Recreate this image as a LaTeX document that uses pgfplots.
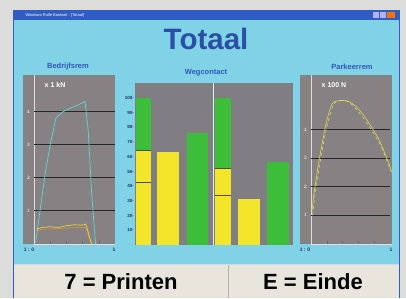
\documentclass[border=0pt]{standalone}
\usepackage{pgfplots}
\pgfplotsset{compat=1.18}
\usepackage{fontspec}
\setmainfont{Liberation Sans}
\setsansfont{Liberation Sans}
\definecolor{bgout}{HTML}{DCDCDA}
\definecolor{winblue}{HTML}{2F5DC4}
\definecolor{cyanbg}{HTML}{80D3E6}
\definecolor{panelgrey}{HTML}{868283}
\definecolor{midgrey}{HTML}{807D83}
\definecolor{titleblue}{HTML}{2B4FA6}
\definecolor{lblblue}{HTML}{3355C0}
\definecolor{barGreen}{HTML}{3DBE3A}
\definecolor{barYellow}{HTML}{F3E52A}
\definecolor{btn}{HTML}{E8E5DC}
\definecolor{cyanline}{HTML}{5ED8CE}
\definecolor{ylwline}{HTML}{E6DA3A}
\definecolor{orangeline}{HTML}{E8903A}
\definecolor{parkline}{HTML}{DCD84A}
\definecolor{axisline}{HTML}{E8D8E0}
\definecolor{tickblue}{HTML}{1F2F6F}
\begin{document}
\begin{tikzpicture}[x=1pt,y=1pt]
\fill[bgout] (0,0) rectangle (406,298);
\fill[winblue] (13,0) rectangle (400,288);
\fill[cyanbg] (14,33) rectangle (399,278);
\fill[btn] (14,0) rectangle (399,33);
\draw[white!70!gray] (14,33.5) -- (399,33.5);
\draw[gray!60] (228,0) -- (228,33);
\node[anchor=west,font=\fontsize{4}{4}\selectfont,text=white!85] at (22,283) {Windows Rolle Bankset - [Totaal]};
\fill[blue!30!white] (373,280) rectangle (379,286);
\fill[blue!30!white] (380,280) rectangle (386,286);
\fill[orange!90!red] (387,280) rectangle (395,286.5);
% titles
\node[font=\fontsize{29.5}{29.5}\selectfont\bfseries, text=titleblue] at (206,259) {Totaal};
\node[font=\fontsize{7.5}{8}\selectfont\bfseries, text=lblblue] at (68,231) {Bedrijfsrem};
\node[font=\fontsize{7.5}{8}\selectfont\bfseries, text=lblblue] at (206,225) {Wegcontact};
\node[font=\fontsize{7.5}{8}\selectfont\bfseries, text=lblblue] at (352,231) {Parkeerrem};
\node[font=\fontsize{22}{22}\selectfont\bfseries] at (121,16) {7 = Printen};
\node[font=\fontsize{22}{22}\selectfont\bfseries] at (313,16) {E = Einde};
% left panel
\begin{axis}[at={(23pt,54pt)}, anchor=south west, scale only axis, width=92pt, height=169pt,
  xmin=-0.136, xmax=1, ymin=0, ymax=5.1, clip=false,
  axis background/.style={fill=panelgrey}, axis line style={draw=none},
  xtick={0.2,0.4,0.6,0.8}, xticklabels={}, tick pos=left, tick align=inside,
  major tick length=3pt, xtick style={black!60, thin},
  ytick={1,2,3,4}, ytick style={draw=none},
  yticklabel style={anchor=west, font=\fontsize{4.5}{5}\selectfont\bfseries, text=white!80}]
\addplot[axisline, line width=0.8pt] coordinates {(0,0)(0,5.1)};
\addplot[axisline, line width=0.8pt] coordinates {(0,0)(1,0)};
\addplot[black!85, line width=0.8pt] coordinates {(0,1)(1,1)};
\addplot[black!85, line width=0.8pt] coordinates {(0,2)(1,2)};
\addplot[black!85, line width=0.8pt] coordinates {(0,3)(1,3)};
\addplot[black!85, line width=0.8pt] coordinates {(0,4)(1,4)};
\addplot[cyanline, line width=0.7pt] coordinates {(0.02,0.05)(0.08,1.1)(0.14,2.15)(0.2,3.0)(0.27,3.8)(0.35,3.98)(0.45,4.1)(0.55,4.2)(0.63,4.3)(0.67,3.4)(0.71,1.6)(0.76,0)};
\addplot[orangeline, line width=0.6pt] coordinates {(0.03,0.38)(0.1,0.45)(0.2,0.45)(0.4,0.48)(0.6,0.5)(0.64,0.5)(0.68,0.2)(0.72,0)};
\addplot[ylwline, line width=0.7pt] coordinates {(0.03,0.45)(0.1,0.5)(0.2,0.52)(0.3,0.5)(0.4,0.55)(0.5,0.58)(0.6,0.57)(0.64,0.6)(0.67,0.35)(0.71,0)};
\end{axis}
\node[font=\fontsize{7}{7}\selectfont\bfseries, text=white] at (55,213) {x 1 kN};
\node[font=\fontsize{5}{5}\selectfont\bfseries, text=tickblue] at (29,48) {1 : 0};
\node[font=\fontsize{5}{5}\selectfont\bfseries, text=tickblue] at (114,48) {1};
% center panel
\begin{axis}[at={(135pt,53pt)}, anchor=south west, scale only axis, width=158pt, height=162pt,
  xmin=135, xmax=293, ymin=0, ymax=110.2, clip=false,
  axis background/.style={fill=midgrey}, axis line style={draw=none},
  xtick=\empty, ytick={10,20,30,40,50,60,70,80,90,100},
  yticklabels={10-,20-,30-,40-,50-,60-,70-,80-,90-,100-},
  ytick style={draw=none},
  yticklabel style={font=\fontsize{4.5}{5}\selectfont\bfseries, text=tickblue, inner xsep=1pt}]
\addplot[ybar, bar shift=0pt, bar width=15, fill=barGreen, draw=none] coordinates {(143.5,100)};
\addplot[ybar, bar shift=0pt, bar width=15, fill=barYellow, draw=none] coordinates {(143.5,64.6)};
\addplot[ybar, bar shift=0pt, bar width=22, fill=barYellow, draw=none] coordinates {(168,63.3)};
\addplot[ybar, bar shift=0pt, bar width=21, fill=barGreen, draw=none] coordinates {(197.5,76.2)};
\addplot[ybar, bar shift=0pt, bar width=16, fill=barGreen, draw=none] coordinates {(223,100)};
\addplot[ybar, bar shift=0pt, bar width=16, fill=barYellow, draw=none] coordinates {(223,52.4)};
\addplot[ybar, bar shift=0pt, bar width=22, fill=barYellow, draw=none] coordinates {(249,31.3)};
\addplot[ybar, bar shift=0pt, bar width=22, fill=barGreen, draw=none] coordinates {(278,56.5)};
\addplot[black!55!olive, line width=0.8pt] coordinates {(136,42.9)(151,42.9)};
\addplot[black!55!olive, line width=0.8pt] coordinates {(136,64.6)(151,64.6)};
\addplot[black!55!olive, line width=0.8pt] coordinates {(215,34)(231,34)};
\addplot[black!55!olive, line width=0.8pt] coordinates {(215,52.4)(231,52.4)};
\addplot[white!85!cyan, line width=0.7pt] coordinates {(213.8,0)(213.8,110.2)};
\end{axis}
% right panel
\begin{axis}[at={(300pt,54pt)}, anchor=south west, scale only axis, width=92pt, height=169pt,
  xmin=-0.14, xmax=1.025, ymin=0, ymax=5.9, clip=false,
  axis background/.style={fill=panelgrey}, axis line style={draw=none},
  xtick={0.2,0.4,0.6,0.8}, xticklabels={}, tick pos=left, tick align=inside,
  major tick length=3pt, xtick style={black!60, thin},
  ytick={1,2,3,4}, ytick style={draw=none},
  yticklabel style={anchor=west, font=\fontsize{4.5}{5}\selectfont\bfseries, text=white!80}]
\addplot[axisline, line width=0.8pt] coordinates {(0,0)(0,5.9)};
\addplot[axisline, line width=0.8pt] coordinates {(0,0)(1.025,0)};
\addplot[black!85, line width=0.8pt] coordinates {(0,1)(1.0,1)};
\addplot[black!85, line width=0.8pt] coordinates {(0,2)(1.0,2)};
\addplot[black!85, line width=0.8pt] coordinates {(0,3)(1.0,3)};
\addplot[black!85, line width=0.8pt] coordinates {(0,4)(1.0,4)};
\addplot[parkline, line width=0.6pt, smooth] coordinates {(0.01,1.1)(0.03,1.6)(0.06,2.2)(0.1,2.9)(0.14,3.5)(0.19,4.2)(0.24,4.7)(0.28,4.95)(0.35,5.0)(0.45,5.0)(0.55,4.85)(0.65,4.55)(0.75,4.15)(0.85,3.7)(0.93,3.2)(1.0,2.7)(1.02,2.5)};
\addplot[parkline!80!white, line width=0.5pt, dashed, smooth] coordinates {(0.02,1.0)(0.04,1.5)(0.07,2.1)(0.11,2.8)(0.15,3.4)(0.2,4.1)(0.25,4.6)(0.29,4.9)(0.36,5.0)(0.46,4.98)(0.56,4.75)(0.66,4.4)(0.76,4.0)(0.86,3.55)(0.94,3.05)(1.01,2.55)};
\end{axis}
\node[font=\fontsize{7}{7}\selectfont\bfseries, text=white] at (334,213) {x 100 N};
\node[font=\fontsize{5}{5}\selectfont\bfseries, text=tickblue] at (305,48) {1 : 0};
\node[font=\fontsize{5}{5}\selectfont\bfseries, text=tickblue] at (391,48) {1};
\end{tikzpicture}
\end{document}
